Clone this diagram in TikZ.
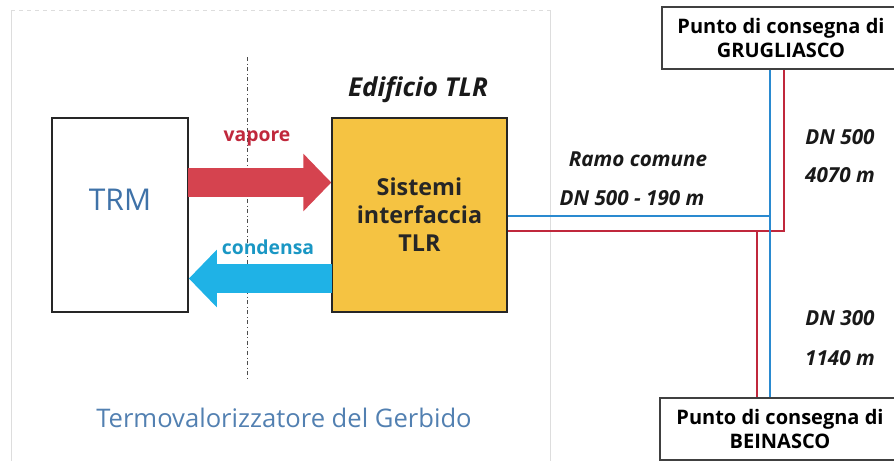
\documentclass[tikz,border=0pt]{standalone}
\usepackage{fontspec}
\setmainfont{Open Sans}
\usetikzlibrary{arrows.meta}

\definecolor{pipered}{HTML}{C0283C}
\definecolor{pipeblue}{HTML}{2A8AD0}
\definecolor{steamred}{HTML}{D5434F}
\definecolor{condblue}{HTML}{1FB2E6}
\definecolor{tlryellow}{HTML}{F5C342}
\definecolor{trmblue}{HTML}{3F72A8}
\definecolor{framegray}{HTML}{DDDDDD}

\tikzset{
    plantbox/.style={draw=black!85, line width=1.3pt, inner sep=0pt},
    deliverybox/.style={draw=black!75, line width=0.8pt, fill=white, inner sep=0pt,
        align=center, font=\fontsize{15}{17.5}\selectfont\bfseries},
    pipelabel/.style={font=\fontsize{15.5}{18}\selectfont\bfseries\itshape, text=black!90},
    flowarrow/.style={line width=21.5pt, -{Triangle[length=21pt, width=42pt]}},
    pipe/.style={line width=1.6pt}
}

\begin{document}
\begin{tikzpicture}[x=0.75pt, y=-0.75pt]
    \useasboundingbox (0,0) rectangle (894,461);

    % Draw faint panel frame
    \draw[framegray, dashed] (11,10) -- (550,10);
    \draw[framegray] (11,10) -- (11,461);
    \draw[framegray] (550,10) -- (550,461);

    % Draw plant boxes
    \node[plantbox, fill=white, minimum width=102pt, minimum height=145.5pt] (trm) at (120,215) {};
    \node[text=trmblue, font=\fontsize{22.5}{26}\selectfont] (trmtext) at (120,200) {TRM};
    \node[plantbox, fill=tlryellow, minimum width=131pt, minimum height=145.5pt,
          align=center, font=\fontsize{17.5}{21}\selectfont\bfseries, text=black!85] (tlr) at (419.5,215)
          {Sistemi\\interfaccia\\TLR};
    \node[font=\fontsize{19.5}{23}\selectfont\bfseries\itshape, text=black!90] (edificio) at (418,90) {Edificio TLR};

    % Draw boundary line
    \coordinate (bordertop) at (247,57);
    \coordinate (borderbot) at (247,380);
    \draw[black!70, line width=0.6pt, dash dot] (bordertop) -- (borderbot);

    % Draw steam and condensate arrows
    \coordinate (steamstart) at (188,182.5);
    \coordinate (condstart) at (332,278.5);
    \draw[flowarrow, steamred] (steamstart) -- (tlr.west |- steamstart);
    \draw[flowarrow, condblue] (condstart) -- (trm.east |- condstart);
    \node[text=pipered, font=\fontsize{14.5}{18}\selectfont\bfseries] (vapore) at (257,138) {vapore};
    \node[text=condblue!85!black, font=\fontsize{14.5}{18}\selectfont\bfseries] (condensa) at (268,247) {condensa};

    \node[text=trmblue!90, font=\fontsize{19.2}{23}\selectfont] (gerbido) at (284,418) {Termovalorizzatore del Gerbido};

    % Draw delivery points
    \node[deliverybox, minimum width=178.5pt, minimum height=46.5pt] (grug) at (781,38)
        {Punto di consegna di\\GRUGLIASCO};
    \node[deliverybox, minimum width=180pt, minimum height=46.5pt] (bein) at (780,429)
        {Punto di consegna di\\BEINASCO};

    % Draw pipes
    \coordinate (bluejoint) at (770,216);
    \coordinate (redjoint) at (784,231);
    \coordinate (redbranch) at (757,231);
    \draw[pipe, pipered] (tlr.east |- redjoint) -- (redjoint) -- (grug.south -| redjoint);
    \draw[pipe, pipered] (redbranch) -- (bein.north -| redbranch);
    \draw[pipe, pipeblue] (tlr.east |- bluejoint) -- (bluejoint);
    \draw[pipe, pipeblue] (grug.south -| bluejoint) -- (bein.north -| bluejoint);

    % Draw pipe labels
    \node[pipelabel] (ramo) at (638,159) {Ramo comune};
    \node[pipelabel] (ramodn) at (632,198) {DN 500 - 190 m};
    \node[pipelabel] (grugdn) at (840,137) {DN 500};
    \node[pipelabel] (grugl) at (840,175) {4070 m};
    \node[pipelabel] (beindn) at (840,318) {DN 300};
    \node[pipelabel] (beinl) at (840,358) {1140 m};
\end{tikzpicture}
\end{document}
